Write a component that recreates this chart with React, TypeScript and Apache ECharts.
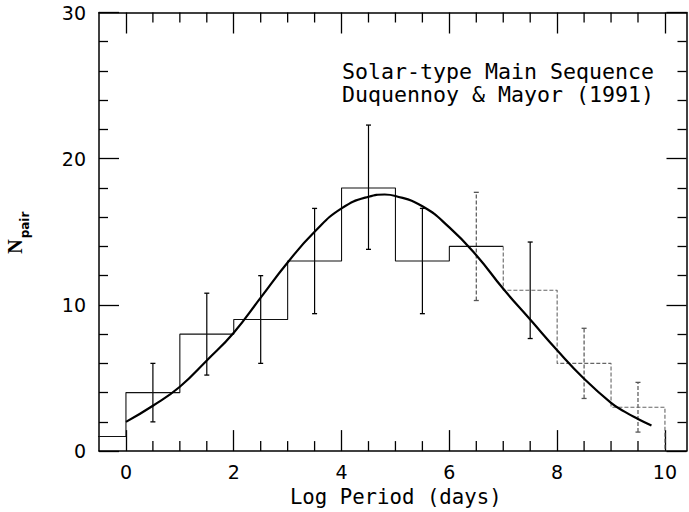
import React, { useEffect, useRef } from "react";
import * as echarts from "echarts";

// Histogram (bin left edges and counts)
const binEdges = [-1, 0, 1, 2, 3, 4, 5, 6, 7, 8, 9, 10];
const binCounts = [1, 4, 8, 9, 13, 18, 13, 14, 11, 6, 3];

// Error bars at bin centres
const errX = [0.5, 1.5, 2.5, 3.5, 4.5, 5.5, 6.5, 7.5, 8.5, 9.5];
const errLow = [2.0, 5.2, 6.0, 9.4, 13.8, 9.4, 10.3, 7.7, 3.6, 1.3];
const errHigh = [6.0, 10.8, 12.0, 16.6, 22.3, 16.6, 17.7, 14.3, 8.4, 4.7];

// Fitted curve
const curveX = [0, 0.5, 1, 1.5, 2, 2.5, 3, 3.5, 4, 4.5, 4.8, 5, 5.5, 6, 6.5, 7, 7.5, 8, 8.5, 9, 9.25, 9.5, 9.75];
const curveY = [2.0, 3.1, 4.4, 6.2, 8.1, 10.5, 12.9, 15.0, 16.6, 17.4, 17.55, 17.45, 16.75, 15.3, 13.4, 11.1, 9.0, 6.9, 4.95, 3.3, 2.7, 2.2, 1.75];

// Axis ticks
const xMajorTicks = [0, 2, 4, 6, 8, 10];
const xMinorTicks = [0.5, 1, 1.5, 2.5, 3, 3.5, 4.5, 5, 5.5, 6.5, 7, 7.5, 8.5, 9, 9.5];

const xTitle = "Log Period (days)";
const annotation1 = "Solar-type Main Sequence";
const annotation2 = "Duquennoy & Mayor (1991)";

export default function App() {
  const ref = useRef<HTMLDivElement>(null);

  useEffect(() => {
    if (!ref.current) return;
    const chart = echarts.init(ref.current, undefined, { renderer: "svg" });

    const splitEdge = 7;
    const leftHist: number[][] = [];
    const rightHist: number[][] = [];
    for (let i = 0; i < binCounts.length; i++) {
      if (binEdges[i] < splitEdge) leftHist.push([binEdges[i], binCounts[i]]);
      else {
        if (rightHist.length === 0) rightHist.push([binEdges[i], binCounts[i - 1]]);
        rightHist.push([binEdges[i], binCounts[i]]);
      }
    }
    leftHist.push([splitEdge, leftHist[leftHist.length - 1][1]]);
    rightHist.push([binEdges[binEdges.length - 1], 0]);

    const axisLineStyle = { color: "#000", width: 1.5 };
    const tickLine = { color: "#000", width: 1.3 };
    const tickFont = { fontFamily: "DejaVu Sans", fontSize: 19, color: "#000" };

    const baseX = { type: "value", min: -0.5, max: 10.4, splitLine: { show: false } };
    const baseY = { type: "value", min: 0, max: 30, interval: 10, splitLine: { show: false } };

    chart.setOption({
      animation: false,
      backgroundColor: "#fff",
      grid: { left: 99, right: 2.5, top: 12.5, bottom: 59.7, containLabel: false },
      xAxis: [
        {
          ...baseX,
          position: "bottom",
          axisLine: { show: true, onZero: false, lineStyle: axisLineStyle },
          axisTick: { show: true, inside: true, length: 21, customValues: xMajorTicks, lineStyle: tickLine },
          axisLabel: { show: true, customValues: xMajorTicks, margin: 11, ...tickFont },
          name: xTitle,
          nameLocation: "middle",
          nameGap: 33,
          nameTextStyle: { fontFamily: "DejaVu Sans Mono", fontSize: 20.7, color: "#000", padding: [0, 0, 0, 6] },
        },
        {
          ...baseX,
          position: "top",
          axisLine: { show: true, onZero: false, lineStyle: axisLineStyle },
          axisTick: { show: true, inside: true, length: 21, customValues: xMajorTicks, lineStyle: tickLine },
          axisLabel: { show: false },
        },
      ],
      yAxis: [
        {
          ...baseY,
          position: "left",
          axisLine: { show: true, onZero: false, lineStyle: axisLineStyle },
          axisTick: { show: true, inside: true, length: 20, lineStyle: tickLine },
          minorTick: { show: true, splitNumber: 5, length: 9, lineStyle: tickLine },
          axisLabel: { show: true, margin: 13, ...tickFont },
        },
        {
          ...baseY,
          position: "right",
          axisLine: { show: true, onZero: false, lineStyle: axisLineStyle },
          axisTick: { show: true, inside: true, length: 20, lineStyle: tickLine },
          minorTick: { show: true, splitNumber: 5, length: 9, lineStyle: tickLine },
          axisLabel: { show: false },
        },
      ],
      series: [
        {
          // minor ticks on top and bottom x axes
          type: "custom",
          data: xMinorTicks.map((x) => [x, 0]),
          renderItem: (params: any, api: any) => {
            const p = api.coord([api.value(0), 0]);
            const cs = params.coordSys;
            const top = cs.y;
            const bottom = cs.y + cs.height;
            return {
              type: "group",
              children: [
                { type: "line", shape: { x1: p[0], y1: bottom, x2: p[0], y2: bottom - 10 }, style: { stroke: "#000", lineWidth: 1.3 } },
                { type: "line", shape: { x1: p[0], y1: top, x2: p[0], y2: top + 10 }, style: { stroke: "#000", lineWidth: 1.3 } },
              ],
            };
          },
          silent: true,
          clip: false,
          z: 1,
        },
        {
          type: "line",
          step: "end",
          data: leftHist,
          symbol: "none",
          lineStyle: { color: "#111", width: 1.1 },
          silent: true,
        },
        {
          type: "line",
          step: "end",
          data: rightHist,
          symbol: "none",
          lineStyle: { color: "#666", width: 1.1, type: [4, 2] },
          silent: true,
        },
        {
          type: "custom",
          data: errX.map((x, i) => [x, errLow[i], errHigh[i]]),
          renderItem: (params: any, api: any) => {
            const x = api.value(0);
            const lo = api.coord([x, api.value(1)]);
            const hi = api.coord([x, api.value(2)]);
            const faint = x > 6 && x !== 7.5;
            const style = {
              stroke: faint ? "#555" : "#000",
              lineWidth: 1.2,
              lineDash: faint ? [4, 2] : null,
            };
            const capStyle = { stroke: faint ? "#555" : "#000", lineWidth: 1.3 };
            return {
              type: "group",
              children: [
                { type: "line", shape: { x1: lo[0], y1: lo[1], x2: hi[0], y2: hi[1] }, style },
                { type: "line", shape: { x1: lo[0] - 2.5, y1: lo[1], x2: lo[0] + 2.5, y2: lo[1] }, style: capStyle },
                { type: "line", shape: { x1: hi[0] - 2.5, y1: hi[1], x2: hi[0] + 2.5, y2: hi[1] }, style: capStyle },
              ],
            };
          },
          silent: true,
          z: 3,
        },
        {
          type: "line",
          data: curveX.map((x, i) => [x, curveY[i]]),
          smooth: true,
          symbol: "none",
          lineStyle: { color: "#000", width: 2.2 },
          silent: true,
          z: 4,
        },
      ],
      graphic: [
        {
          type: "text",
          x: 342,
          y: 60,
          style: { text: annotation1, font: "21.6px 'DejaVu Sans Mono'", fill: "#000", verticalAlign: "top", align: "left" },
        },
        {
          type: "text",
          x: 342,
          y: 83.5,
          style: { text: annotation2, font: "21.6px 'DejaVu Sans Mono'", fill: "#000", verticalAlign: "top", align: "left" },
        },
        {
          type: "text",
          x: 14.5,
          y: 246.5,
          rotation: Math.PI / 2,
          style: { text: "N", font: "bold 20px 'Liberation Serif'", fill: "#000", align: "center", verticalAlign: "middle" },
        },
        {
          type: "text",
          x: 25,
          y: 225,
          rotation: Math.PI / 2,
          style: { text: "pair", font: "bold 12px 'DejaVu Sans'", fill: "#000", align: "center", verticalAlign: "middle" },
        },
      ],
    });

    return () => chart.dispose();
  }, []);

  return <div ref={ref} style={{ width: 689, height: 512, position: "absolute", left: 0, top: 0 }} />;
}
